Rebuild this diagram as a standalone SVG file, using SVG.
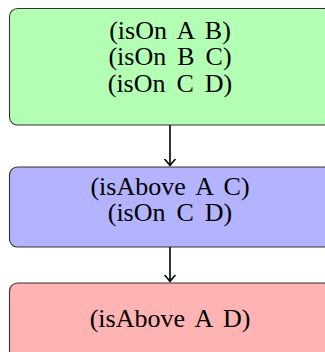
<svg xmlns="http://www.w3.org/2000/svg" width="325" height="352" viewBox="0 0 325 352">
<style>
.box{stroke:#333;stroke-width:1.1}
.t{font-family:"Liberation Serif","Times New Roman",serif;font-size:26px;fill:#000;text-anchor:middle;word-spacing:4.5px}
.c{stroke:#000;stroke-width:1.6;fill:none}
.h{stroke:#000;stroke-width:1.6;fill:none;stroke-linecap:round;stroke-linejoin:round}
</style>
<defs>
<marker id="arr" viewBox="-7 -7 14 14" markerWidth="14" markerHeight="14" refX="0" refY="0" orient="auto" markerUnits="userSpaceOnUse">
<path class="h" d="M-6,-5 Q-1.5,-1 0,0 Q-1.5,1 -6,5"/>
</marker>
</defs>
<g id="node1">
<rect class="box" x="9.5" y="8.5" width="322" height="116.5" rx="8" fill="#b3ffb3"/>
<text class="t" x="170" y="38.5">(isOn A B)</text>
<text class="t" x="170" y="65">(isOn B C)</text>
<text class="t" x="170" y="91.5">(isOn C D)</text>
</g>
<g id="node2">
<rect class="box" x="9.5" y="167" width="322" height="80" rx="8" fill="#b3b3ff"/>
<text class="t" x="170" y="194.5">(isAbove A C)</text>
<text class="t" x="170" y="221">(isOn C D)</text>
</g>
<g id="node3">
<rect class="box" x="9.5" y="283" width="322" height="90" rx="8" fill="#ffb3b3"/>
<text class="t" x="170" y="326.5">(isAbove A D)</text>
</g>
<g id="connectors">
<path class="c" d="M170,125 L170,165.5" marker-end="url(#arr)"/>
<path class="c" d="M170,247 L170,281.5" marker-end="url(#arr)"/>
</g>
</svg>
